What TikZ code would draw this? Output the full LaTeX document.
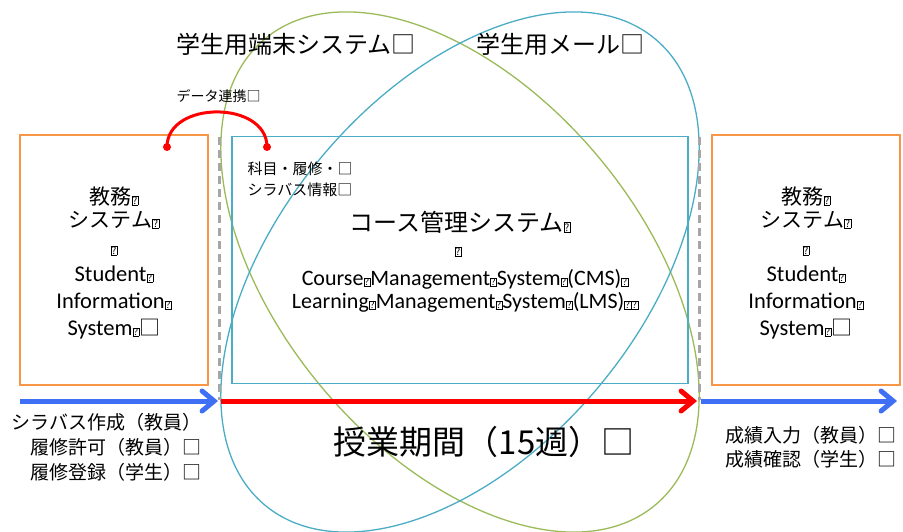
\documentclass[tikz,border=0pt]{standalone}
\usepackage{fontspec}
\setmainfont{Noto Sans CJK JP}
\newfontfamily\latin{Carlito}
\usetikzlibrary{arrows.meta}

\definecolor{orangeline}{HTML}{F79646}
\definecolor{aqualine}{HTML}{4BACC6}
\definecolor{greenline}{HTML}{9BBB59}
\definecolor{flowblue}{HTML}{3F6FF5}
\definecolor{gapgray}{HTML}{A6A6A6}

\newcommand{\qb}{{\fontsize{10}{10}\selectfont\fboxsep=0.6pt\fboxrule=0.5pt\fbox{?}}}
\newcommand{\fs}[2]{\fontsize{#1}{#2}\selectfont}

\begin{document}
\begin{tikzpicture}[x=1pt,y=-1pt,
  sisbox/.style={draw=orangeline,line width=1.5pt,minimum width=188pt,minimum height=250pt,inner sep=0pt},
  sistext/.style={align=center,inner sep=0pt,font=\fs{21}{27}},
  cmsbox/.style={draw=aqualine,line width=1.5pt,minimum width=456pt,minimum height=247pt,inner sep=0pt},
  ovalA/.style={draw=greenline,line width=1.3pt},
  ovalB/.style={draw=aqualine,line width=1.3pt},
  gapline/.style={draw=gapgray,line width=3pt,dash pattern=on 8pt off 5pt},
  flowarrow/.style={line width=5pt,-{Straight Barb[length=12pt,width=20pt,line cap=round]}},
  linkdot/.style={fill=red,circle,inner sep=0pt,minimum size=8pt}]
\useasboundingbox (0,0) rectangle (903,532);

% systems around the course
\draw[ovalA] (460,272) ellipse[x radius=304,y radius=180,rotate=-50];
\draw[ovalB] (460,272) ellipse[x radius=304,y radius=180,rotate=50];
\node[anchor=west,font=\fs{24}{28}] (pcsys) at (173,44) {学生用端末システム□};
\node[anchor=west,font=\fs{24}{28}] (mail) at (473,44) {学生用メール□};

% boxes
\node[sisbox] (sisL) at (114,260) {};
\node[sisbox] (sisR) at (806,260) {};
\node[sistext] (sisLtext) at (114,263) {教務\qb\\[-4pt]システム\qb\\\qb\\{\latin\fs{22.5}{27}Student\qb}\\{\latin\fs{22.5}{27}Information\qb}\\{\latin\fs{22.5}{27}System\qb}□};
\node[sistext] (sisRtext) at (806,263) {教務\qb\\[-4pt]システム\qb\\\qb\\{\latin\fs{22.5}{27}Student\qb}\\{\latin\fs{22.5}{27}Information\qb}\\{\latin\fs{22.5}{27}System\qb}□};
\node[cmsbox] (cms) at (460,260) {};
\node[font=\fs{24}{28}] (cmsname) at (460,222) {コース管理システム\qb};
\node (cmsgap) at (458,252) {\qb};
\node[align=center,font=\latin\fs{22}{23}] (cmsen) at (465,291)
  {Course\qb Management\qb System\qb(CMS)\qb\\Learning\qb Management\qb System\qb(LMS)\qb\qb};
\node[align=center,font=\fs{15}{21}] (info) at (300,179) {科目・履修・□\\シラバス情報□};

% data link
\coordinate (pL) at (167,147);
\coordinate (pR) at (267,147);
\draw[red,line width=3pt] (pL) to[out=90,in=90,looseness=1.2] (pR);
\node[linkdot] (dotL) at (pL) {};
\node[linkdot] (dotR) at (pR) {};
\node[anchor=west,font=\fs{14}{18}] (link) at (173,96) {データ連携□};

% time line
\coordinate (g1t) at (219,137);
\coordinate (g1b) at (219,400);
\coordinate (g2t) at (699,137);
\coordinate (g2b) at (699,400);
\draw[gapline] (g1t) -- (g1b);
\draw[gapline] (g2t) -- (g2b);
\coordinate (a0) at (20,401);
\coordinate (a1) at (218,401);
\coordinate (b0) at (221,401);
\coordinate (b1) at (697,401);
\coordinate (c0) at (701,401);
\coordinate (c1) at (897,401);
\draw[flowarrow,flowblue] (a0) -- (a1);
\draw[flowarrow,red] (b0) -- (b1);
\draw[flowarrow,flowblue] (c0) -- (c1);

\node[anchor=north east,align=right,font=\fs{19}{25}] (before) at (205,410) {シラバス作成（教員）\\履修許可（教員）□\\履修登録（学生）□};
\node[font=\fs{33}{36}] (term) at (484,442) {授業期間（15週）□};
\node[anchor=north west,align=left,font=\fs{19}{24}] (after) at (722,423) {成績入力（教員）□\\成績確認（学生）□};
\end{tikzpicture}
\end{document}
